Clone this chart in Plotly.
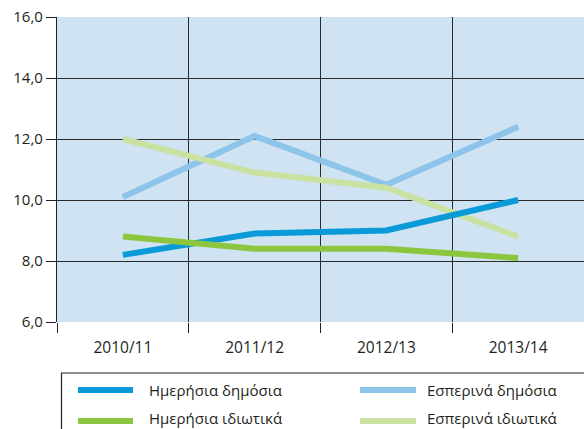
import plotly.graph_objects as go

# School years on the horizontal axis
years = ["2010/11", "2011/12", "2012/13", "2013/14"]

# Series values
day_public = [8.2, 8.9, 9.0, 10.0]
day_private = [8.8, 8.4, 8.4, 8.1]
evening_public = [10.1, 12.1, 10.5, 12.4]
evening_private = [12.0, 10.9, 10.4, 8.8]

series_names = ["Ημερήσια δημόσια", "Ημερήσια ιδιωτικά",
                "Εσπερινά δημόσια", "Εσπερινά ιδιωτικά"]
series_values = [day_public, day_private, evening_public, evening_private]
series_colors = ["#0a9ad8", "#8cc63e", "#8dc4ea", "#c9e1a1"]

y_ticks = [6, 8, 10, 12, 14, 16]

W, H = 584, 429
ML, MT, MR, MB = 57, 17, 0, 107
PW, PH = W - ML - MR, H - MT - MB

TEXT = "#231f20"
FONT = "Open Sans"

fig = go.Figure()
# draw order: evening series beneath day series
for idx in [2, 3, 0, 1]:
    fig.add_trace(go.Scatter(
        x=years, y=series_values[idx], mode="lines", name=series_names[idx],
        line=dict(color=series_colors[idx], width=6), showlegend=False,
        hoverinfo="skip"))


def px_to_paper_x(px):
    return (px - ML) / PW


def px_to_paper_y(py):
    return (MT + PH - py) / PH


# legend frame
shapes = [dict(type="rect", xref="paper", yref="paper",
               x0=px_to_paper_x(61.5), x1=px_to_paper_x(600),
               y0=px_to_paper_y(373), y1=px_to_paper_y(460),
               line=dict(color=TEXT, width=1.2), fillcolor="white", layer="above")]
annotations = []
legend_slots = [(78, 133, 148, 390, 390), (78, 133, 148, 421, 418),
                (360, 416, 426, 390, 390), (360, 416, 426, 421, 418)]
for name, color, (lx0, lx1, tx, ly, ty) in zip(series_names, series_colors, legend_slots):
    shapes.append(dict(type="line", xref="paper", yref="paper",
                       x0=px_to_paper_x(lx0), x1=px_to_paper_x(lx1),
                       y0=px_to_paper_y(ly), y1=px_to_paper_y(ly),
                       line=dict(color=color, width=6), layer="above"))
    annotations.append(dict(xref="paper", yref="paper",
                            x=px_to_paper_x(tx), y=px_to_paper_y(ty),
                            text=name, showarrow=False, xanchor="left",
                            yanchor="middle", borderpad=0,
                            font=dict(family=FONT, size=15, color=TEXT)))

fig.update_layout(
    width=W, height=H,
    margin=dict(l=ML, r=MR, t=MT, b=MB, pad=0),
    paper_bgcolor="white", plot_bgcolor="#cfe3f3",
    separators=",.",
    font=dict(family=FONT, size=14, color=TEXT),
    shapes=shapes, annotations=annotations,
    xaxis=dict(type="category", tickson="boundaries", range=[-0.5, 3.5],
               ticks="outside", ticklen=10, tickwidth=1.2, tickcolor=TEXT,
               ticklabelstandoff=14,
               showgrid=True, gridcolor="#2a2a2a", gridwidth=1.2,
               showline=False, zeroline=False,
               tickfont=dict(family=FONT, size=15.5, color=TEXT)),
    yaxis=dict(range=[6, 16], tickvals=y_ticks, tickformat=".1f",
               ticks="outside", ticklen=10, tickwidth=1.2, tickcolor=TEXT,
               showgrid=True, gridcolor="#2a2a2a", gridwidth=1.2,
               showline=True, linecolor=TEXT, linewidth=1.2,
               zeroline=False,
               tickfont=dict(family=FONT, size=15, color=TEXT)),
)

fig.write_html("out.html")
